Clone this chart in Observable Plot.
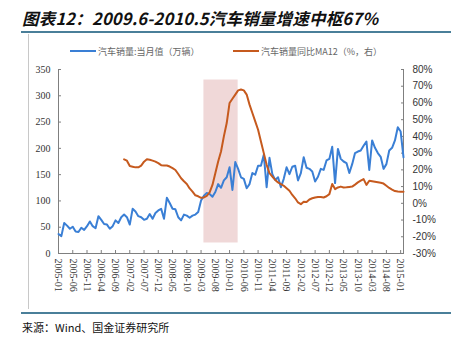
<!DOCTYPE html>
<html><head><meta charset="utf-8">
<script src="https://cdn.jsdelivr.net/npm/d3@7"></script>
<script src="https://cdn.jsdelivr.net/npm/@observablehq/plot@0.6"></script>
<style>
html,body{margin:0;padding:0;background:#fff;}
body{position:relative;width:451px;height:338px;overflow:hidden;font-family:"Noto Sans CJK SC","Noto Sans",sans-serif;}
#title{position:absolute;left:22px;top:7px;font-size:16.5px;letter-spacing:0.2px;line-height:22px;font-weight:bold;font-style:italic;color:#111;white-space:nowrap;}
#rule1{position:absolute;left:21px;top:31px;width:430px;height:2px;background:#4a7f99;}
#rule2{position:absolute;left:21px;top:312px;width:430px;height:2px;background:#4a7f99;}
#vline{position:absolute;left:28px;top:34px;width:1px;height:275px;background:#c8c8c8;}
#legend{position:absolute;top:43px;left:0;width:451px;height:16px;font-size:9px;color:#666;white-space:nowrap;}
.item{position:absolute;top:0;display:flex;align-items:center;height:16px;}
.sw{display:inline-block;width:26px;height:2px;margin-right:2px;}
#chart{position:absolute;left:0;top:58px;}
#caption{position:absolute;left:22px;top:319px;font-size:11px;line-height:16px;color:#111;white-space:nowrap;}
</style></head>
<body>
<div id="title">图表12：2009.6-2010.5汽车销量增速中枢67%</div>
<div id="rule1"></div>
<div id="vline"></div>
<div id="legend"></div>
<div id="chart"></div>
<div id="rule2"></div>
<div id="caption">来源：Wind、国金证券研究所</div>
<script>
// ---- data ----
const seriesNames = ["汽车销量:当月值（万辆）", "汽车销量同比MA12（%，右）"];
const seriesColors = ["#3a7fd5", "#c65a1e"];
const startYear = 2005;
// monthly sales, 2005-01 .. 2015-02 (万辆)
const sales = [
  37, 33, 58, 53, 47, 51, 42, 41, 49, 45, 52, 61,
  52, 48, 71, 64, 56, 55, 47, 52, 63, 58, 69, 74,
  69, 55, 85, 80, 71, 69, 64, 66, 75, 66, 77, 82,
  85, 66, 106, 96, 85, 84, 69, 63, 74, 72, 68, 72,
  74, 79, 101, 110, 115, 113, 108, 117, 132, 125, 139, 145,
  164, 121, 174, 161, 145, 142, 124, 132, 153, 150, 167, 167,
  188, 126, 182, 151, 140, 145, 126, 142, 164, 151, 165, 167,
  139, 153, 183, 163, 161, 156, 137, 146, 161, 159, 177, 180,
  203, 134, 199, 180, 175, 172, 153, 170, 191, 194, 196, 205,
  213, 159, 215, 201, 191, 184, 161, 170, 196, 201, 215, 240,
  232, 183
];
// yoy MA12 (%), starting 2006-12
const yoyStart = "2006-12";
const yoy = [
  26.3, 25.5, 22.3, 21.9, 21.5, 21.5, 22.5,
  24.9, 26.3, 26.0, 25.5, 24.9, 24.0, 22.8, 22.6, 22.6, 22.0,
  21.0, 19.9, 17.5, 15.0, 13.2, 11.6, 8.9, 7.0, 4.8, 4.2,
  3.3, 3.5, 4.5, 6.5, 11, 18, 25, 31, 40, 48,
  60, 62.5, 65, 67.5, 68, 67.5, 65, 59, 54, 49,
  44, 37, 30, 23, 18, 16, 14, 12.5, 11.5, 10.5,
  9, 7.5, 5, 3, 0.5, -0.5, 1, 0.8, 2.3, 3,
  3.5, 3.8, 3.8, 3.5, 4.2, 5.5, 11.5, 8.5, 9.5, 10,
  9.5, 9.6, 9.8, 10, 11.2, 12.5, 13.5, 14.5, 11, 13.5,
  13.2, 12.9, 12.6, 12.3, 11.8, 10.5, 9.2, 8.2, 7.3, 7, 6.9, 6.9
];
const xTickLabels = ["2005-01","2005-06","2005-11","2006-04","2006-09","2007-02","2007-07","2007-12","2008-05","2008-10","2009-03","2009-08","2010-01","2010-06","2010-11","2011-04","2011-09","2012-02","2012-07","2012-12","2013-05","2013-10","2014-03","2014-08","2015-01"];
const leftTicks = [0, 50, 100, 150, 200, 250, 300, 350];
const rightTicks = [-30, -20, -10, 0, 10, 20, 30, 40, 50, 60, 70, 80];
const shadeFrom = "2009-04", shadeTo = "2010-04";
const shadeLow = 20, shadeHigh = 330;

// ---- build ----
const months = sales.map((_, i) => `${startYear + Math.floor(i / 12)}-${String(i % 12 + 1).padStart(2, "0")}`);
const idx = s => months.indexOf(s);
const salesData = sales.map((v, i) => ({i, v}));
const o0 = idx(yoyStart);
const yoyData = yoy.map((v, k) => ({i: o0 + k, v}));
const lMax = leftTicks[leftTicks.length - 1], rMin = rightTicks[0], rMax = rightTicks[rightTicks.length - 1];
const toLeft = p => (p - rMin) * lMax / (rMax - rMin);
const toRight = y => Math.round(y * (rMax - rMin) / lMax + rMin);
const xMax = months.length - 1;

const leg = document.getElementById("legend");
[[70, 0], [233, 1]].forEach(([x, k]) => {
  const d = document.createElement("div");
  d.className = "item"; d.style.left = x + "px";
  d.innerHTML = `<span class="sw" style="background:${seriesColors[k]}"></span><span>${seriesNames[k]}</span>`;
  leg.appendChild(d);
});

const axisCommon = {label: null, stroke: "#7f7f7f", fill: "#333", tickSize: -3};
const chart = Plot.plot({
  width: 451, height: 254,
  marginTop: 11, marginBottom: 59, marginLeft: 58, marginRight: 48,
  x: {type: "linear", domain: [0, xMax]},
  y: {domain: [0, lMax]},
  style: {fontFamily: "'Liberation Serif', serif", fontSize: "10px", background: "transparent", overflow: "visible"},
  marks: [
    Plot.rect([{a: shadeFrom, b: shadeTo}], {x1: d => idx(d.a), x2: d => idx(d.b), y1: shadeLow, y2: shadeHigh, fill: "#f0d8d8"}),
    Plot.ruleX([0, xMax], {stroke: "#7f7f7f"}),
    Plot.ruleY([0], {stroke: "#7f7f7f"}),
    Plot.axisY(leftTicks, {...axisCommon, anchor: "left", tickPadding: 11, tickFormat: d => String(d)}),
    Plot.axisY(rightTicks.map(toLeft), {...axisCommon, anchor: "right", tickPadding: 12, tickFormat: d => toRight(d) + "%", fontFamily: "'Liberation Sans', sans-serif"}),
    Plot.axisX(xTickLabels.map(idx), {...axisCommon, anchor: "bottom", tickRotate: 90, tickPadding: 8, tickFormat: d => months[d]}),
    Plot.line(salesData, {x: "i", y: "v", stroke: seriesColors[0], strokeWidth: 2}),
    Plot.line(yoyData, {x: "i", y: d => toLeft(d.v), stroke: seriesColors[1], strokeWidth: 2})
  ]
});
document.getElementById("chart").appendChild(chart);
</script>
</body></html>
